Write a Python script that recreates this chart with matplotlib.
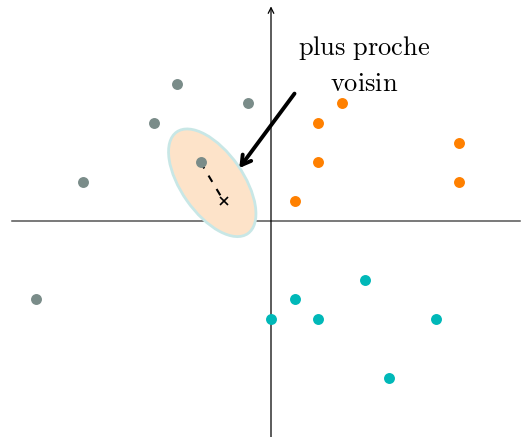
import matplotlib.pyplot as plt
from matplotlib.patches import Ellipse
from matplotlib import transforms

plt.rcParams['mathtext.fontset'] = 'cm'

# points par classe
gris_x = [-10, -8, -5, -4, -3, -1]
gris_y = [-4, 2, 5, 7, 3, 6]
orange_x = [1, 2, 2, 3, 8, 8]
orange_y = [1, 3, 5, 6, 4, 2]
cyan_x = [0, 1, 2, 4, 5, 7]
cyan_y = [-5, -4, -5, -3, -8, -5]

# point a classer et son voisin
query = (-2, 1)
voisin = (-3, 3)

px_x, px_y = 23.5, 19.6  # pixels par unite

fig = plt.figure(figsize=(5.21, 4.37), dpi=100)
ax = fig.add_axes([0, 0, 1, 1])
ax.set_xlim(-271 / px_x, 250 / px_x)
ax.set_ylim(-216 / px_y, 221 / px_y)
ax.axis('off')

# axes
ax.plot([-11.02, 10.6], [0, 0], color='#555555', lw=1.1, zorder=1)
ax.annotate('', xy=(0, 10.95), xytext=(0, -11.1),
            arrowprops=dict(arrowstyle='->', color='black', lw=0.9,
                            shrinkA=0, shrinkB=0), zorder=1)

# ellipse (en pixels puis ramenee aux donnees)
tr = transforms.Affine2D().scale(1 / px_x, 1 / px_y).translate(-2.5, 1.95) + ax.transData
ell = Ellipse((0, 0), 124, 62, angle=-55, facecolor='#fde3c9',
              edgecolor='#c8e7e6', lw=2, transform=tr, zorder=2)
ax.add_patch(ell)

ax.scatter(gris_x, gris_y, s=62, color='#7a8c89', zorder=4, linewidths=0)
ax.scatter(orange_x, orange_y, s=62, color='#ff8000', zorder=4, linewidths=0)
ax.scatter(cyan_x, cyan_y, s=62, color='#00b8b8', zorder=4, linewidths=0)

ax.plot([voisin[0], query[0]], [voisin[1], query[1]], color='black',
        ls=(0, (3.5, 4)), lw=1.5, zorder=3)
ax.plot(query[0], query[1], marker='x', color='black', ms=6, mew=1.2, zorder=5)

ax.annotate('', xy=(-1.35, 2.7), xytext=(1.0, 6.5),
            arrowprops=dict(arrowstyle='->,head_length=0.65,head_width=0.38',
                            color='black', lw=2.8, shrinkA=0, shrinkB=0),
            zorder=6)
ax.text(3.95, 8.85, r'$\mathrm{plus\ proche}$', fontsize=19, ha='center', va='center')
ax.text(3.95, 7.0, r'$\mathrm{voisin}$', fontsize=19, ha='center', va='center')

plt.savefig('out.png', dpi=100)
